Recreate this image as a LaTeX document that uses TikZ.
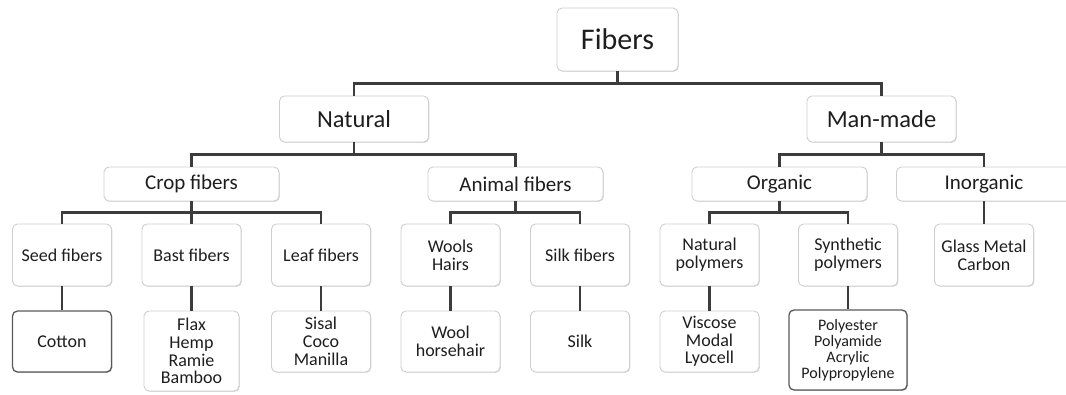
\documentclass[tikz,border=0pt]{standalone}
\usepackage{fontspec}
\setmainfont{Carlito}
\usetikzlibrary{shadows}
\definecolor{boxline}{HTML}{CFCFCF}
\definecolor{darkline}{HTML}{5A5A5A}
\definecolor{connline}{HTML}{3C3C3C}
\definecolor{txt}{HTML}{1E1E1E}

\begin{document}
\begin{tikzpicture}[
  x=1pt, y=-1pt,
  box/.style={rectangle, draw=boxline, line width=0.9pt, rounded corners=5pt,
              fill=white, text=txt, align=center, inner sep=2pt,
              drop shadow={shadow xshift=0.8pt, shadow yshift=-0.8pt,
                           opacity=0.25, fill=black!60}},
  dbox/.style={box, draw=darkline, line width=1.3pt},
  top/.style={box, minimum width=121pt, minimum height=63pt,
              font=\fontsize{30}{30}\selectfont},
  main/.style={box, minimum width=149pt, minimum height=46pt,
               font=\fontsize{24.5}{26}\selectfont},
  group/.style={box, minimum width=175pt, minimum height=34pt,
                font=\fontsize{21}{22}\selectfont},
  kind/.style={box, minimum width=99pt, minimum height=62pt,
               font=\fontsize{18}{17.7}\selectfont},
  leaf/.style={box, minimum width=99pt, minimum height=61pt,
               font=\fontsize{18}{17.7}\selectfont},
  conn/.style={draw=connline, line width=2.2pt}
]
\useasboundingbox (0,0) rectangle (1066,394);

\node[top] (fib) at (617.5,39.5) {Fibers};

\node[main] (nat) at (354,119) {Natural};
\node[main] (man) at (881.5,119) {Man-made};

\node[group] (crop) at (191.5,184) {Crop fibers};
\node[group] (anim) at (515.5,184) {Animal fibers};
\node[group] (org) at (779.5,184) {Organic};
\node[group] (inorg) at (984,184) {Inorganic};

\node[kind] (seed) at (62,255) {Seed fibers};
\node[kind] (bast) at (191.5,255) {Bast fibers};
\node[kind] (leaff) at (321,255) {Leaf fibers};
\node[kind] (wools) at (450.5,255) {Wools\\Hairs};
\node[kind] (silkf) at (580,255) {Silk fibers};
\node[kind] (natp) at (709.5,255) {Natural\\polymers};
\node[kind] (synp) at (848,255) {Synthetic\\polymers};
\node[kind] (glass) at (984,255) {Glass Metal\\Carbon};

\node[leaf, dbox] (cotton) at (62,341.5) {Cotton};
\node[leaf, minimum width=95pt, minimum height=80pt] (flax) at (191.5,351) {Flax\\Hemp\\Ramie\\Bamboo};
\node[leaf] (sisal) at (321,341.5) {Sisal\\Coco\\Manilla};
\node[leaf] (wool) at (450.5,341.5) {Wool\\horsehair};
\node[leaf] (silk) at (580,341.5) {Silk};
\node[leaf] (visc) at (709.5,341.5) {Viscose\\Modal\\Lyocell};
\node[leaf, dbox, minimum width=118pt, minimum height=80pt,
      font=\fontsize{16}{16}\selectfont] (poly) at (848,350) {Polyester\\Polyamide\\Acrylic\\Polypropylene};

\draw[conn] (fib.south) -- ++(0,12) -| (nat.north);
\draw[conn] (fib.south) -- ++(0,12) -| (man.north);

\draw[conn] (nat.south) -- ++(0,12) -| (crop.north);
\draw[conn] (nat.south) -- ++(0,12) -| (anim.north);
\draw[conn] (man.south) -- ++(0,12) -| (org.north);
\draw[conn] (man.south) -- ++(0,12) -| (inorg.north);

\draw[conn] (crop.south) -- ++(0,11) -| (seed.north);
\draw[conn] (crop.south) -- ++(0,11) -| (leaff.north);
\draw[conn] (crop.south) -- (bast.north);
\draw[conn] (anim.south) -- ++(0,11) -| (wools.north);
\draw[conn] (anim.south) -- ++(0,11) -| (silkf.north);
\draw[conn] (org.south) -- ++(0,11) -| (natp.north);
\draw[conn] (org.south) -- ++(0,11) -| (synp.north);
\draw[conn] (inorg.south) -- (glass.north);

\draw[conn] (seed.south) -- (cotton.north);
\draw[conn] (bast.south) -- (flax.north);
\draw[conn] (leaff.south) -- (sisal.north);
\draw[conn] (wools.south) -- (wool.north);
\draw[conn] (silkf.south) -- (silk.north);
\draw[conn] (natp.south) -- (visc.north);
\draw[conn] (synp.south) -- (poly.north);
\end{tikzpicture}
\end{document}
